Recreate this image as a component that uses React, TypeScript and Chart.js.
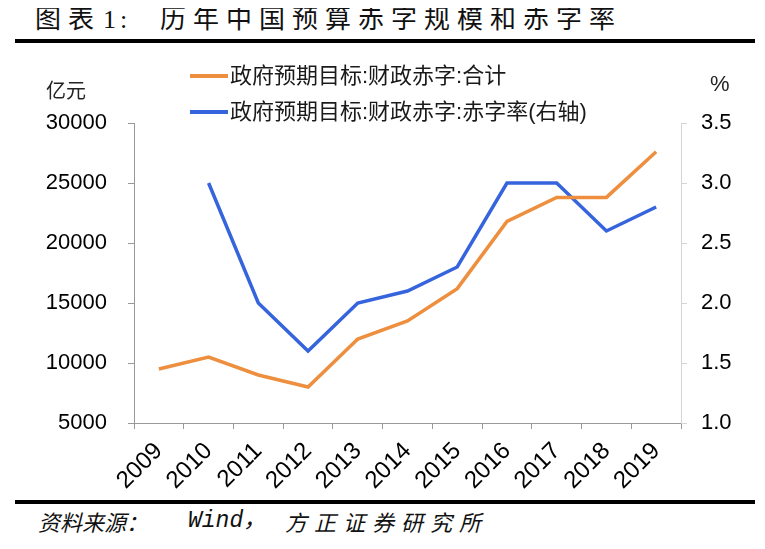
import React, { useEffect, useRef } from "react";
import { Chart, registerables } from "chart.js";

Chart.register(...registerables);

const years = ["2009", "2010", "2011", "2012", "2013", "2014", "2015", "2016", "2017", "2018", "2019"];
const deficitAmount = [9500, 10500, 9000, 8000, 12000, 13500, 16200, 21800, 23800, 23800, 27600];
const deficitRate = [null, 3.0, 2.0, 1.6, 2.0, 2.1, 2.3, 3.0, 3.0, 2.6, 2.8];
const seriesLabels = ["政府预期目标:财政赤字:合计", "政府预期目标:财政赤字:赤字率(右轴)"];
const leftRange = [5000, 30000, 5000];
const rightRange = [1.0, 3.5, 0.5];
const leftUnit = "亿元";
const rightUnit = "%";

const ORANGE = "#ED8F3E";
const BLUE = "#3564DD";
const SANS = '"Liberation Sans", "Noto Sans CJK SC", sans-serif';

const overlayPlugin = {
  id: "overlay",
  afterDraw(chart: any) {
    const { ctx, chartArea } = chart;
    ctx.save();
    const x0 = chartArea.left + 56;
    const rows = [chartArea.top - 47, chartArea.top - 11];
    chart.data.datasets.forEach((ds: any, i: number) => {
      const y = rows[i];
      ctx.strokeStyle = ds.borderColor;
      ctx.lineWidth = 4;
      ctx.lineCap = "butt";
      ctx.beginPath();
      ctx.moveTo(x0, y);
      ctx.lineTo(x0 + 38, y);
      ctx.stroke();
      ctx.fillStyle = "#1a1a1a";
      ctx.font = '22px "Liberation Sans", "Noto Sans CJK SC", sans-serif';
      ctx.textAlign = "left";
      ctx.textBaseline = "middle";
      ctx.fillText(ds.label, x0 + 40, y + 1);
    });
    ctx.fillStyle = "#222";
    ctx.textBaseline = "middle";
    ctx.textAlign = "left";
    ctx.font = '20px "Noto Sans CJK SC", sans-serif';
    ctx.fillText(leftUnit, 38, chartArea.top - 33);
    ctx.font = '22px "Liberation Sans", sans-serif';
    ctx.fillText(rightUnit, 702, chartArea.top - 38);
    ctx.restore();
  },
};

function ChartCanvas() {
  const ref = useRef<HTMLCanvasElement | null>(null);
  useEffect(() => {
    if (!ref.current) return;
    const chart = new Chart(ref.current, {
      type: "line",
      data: {
        labels: years,
        datasets: [
          {
            label: seriesLabels[0],
            data: deficitAmount,
            borderColor: ORANGE,
            backgroundColor: ORANGE,
            borderWidth: 3.5,
            pointRadius: 0,
            tension: 0,
            yAxisID: "y",
          },
          {
            label: seriesLabels[1],
            data: deficitRate,
            borderColor: BLUE,
            backgroundColor: BLUE,
            borderWidth: 3.5,
            pointRadius: 0,
            tension: 0,
            yAxisID: "y1",
          },
        ],
      },
      options: {
        responsive: false,
        animation: false,
        layout: { padding: { top: 73, left: 0, right: 0, bottom: 0 } },
        plugins: {
          legend: { display: false },
          tooltip: { enabled: false },
        },
        scales: {
          x: {
            offset: true,
            grid: {
              offset: true,
              display: true,
              drawOnChartArea: false,
              drawTicks: true,
              tickLength: 6,
              color: "#999",
            },
            border: { display: true, color: "#999", width: 1 },
            ticks: {
              minRotation: 45,
              maxRotation: 45,
              autoSkip: false,
              padding: 8,
              color: "#000",
              font: { family: SANS, size: 24 },
            },
            afterFit: (s: any) => {
              s.height = 72;
            },
          },
          y: {
            position: "left",
            min: leftRange[0],
            max: leftRange[1],
            grid: {
              display: true,
              drawOnChartArea: false,
              drawTicks: true,
              tickLength: 6,
              color: "#999",
            },
            border: { display: true, color: "#999", width: 1 },
            ticks: {
              stepSize: leftRange[2],
              padding: 21,
              color: "#000",
              font: { family: SANS, size: 22 },
              callback: (v: any) => String(v),
            },
            afterFit: (s: any) => {
              s.width = 126;
            },
          },
          y1: {
            position: "right",
            min: rightRange[0],
            max: rightRange[1],
            grid: {
              display: true,
              drawOnChartArea: false,
              drawTicks: true,
              tickLength: 6,
              color: "#d4d4d4",
            },
            border: { display: true, color: "#d4d4d4", width: 1 },
            ticks: {
              stepSize: rightRange[2],
              padding: 14,
              color: "#000",
              font: { family: SANS, size: 22 },
              callback: (v: any) => Number(v).toFixed(1),
            },
            afterFit: (s: any) => {
              s.width = 76;
            },
          },
        },
      },
      plugins: [overlayPlugin],
    });
    return () => chart.destroy();
  }, []);
  return (
    <canvas
      ref={ref}
      width={749}
      height={445}
      style={{ position: "absolute", left: 0, top: 42, width: 749, height: 445 }}
    />
  );
}

export default function App() {
  const titleBase: React.CSSProperties = {
    position: "absolute",
    top: -3,
    fontSize: 26,
    lineHeight: "30px",
    whiteSpace: "nowrap",
    color: "#111",
    fontFamily: '"Liberation Serif", "Noto Sans CJK SC", serif',
  };
  const footBase: React.CSSProperties = {
    position: "absolute",
    top: 502,
    fontSize: 22,
    lineHeight: "23px",
    whiteSpace: "nowrap",
    fontStyle: "italic",
    color: "#111",
    fontFamily: '"Noto Sans CJK SC", sans-serif',
  };
  return (
    <div style={{ position: "relative", width: 749, height: 533, background: "#fff" }}>
      <span style={{ ...titleBase, left: 27, letterSpacing: 7 }}>图表</span>
      <span style={{ ...titleBase, left: 95, letterSpacing: 4 }}>1:</span>
      <span style={{ ...titleBase, left: 152, letterSpacing: 7 }}>历年中国预算赤字规模和赤字率</span>
      <div style={{ position: "absolute", left: 7, top: 31, width: 740, height: 4, background: "#000" }} />
      <ChartCanvas />
      <div style={{ position: "absolute", left: 7, top: 492, width: 740, height: 4, background: "#000" }} />
      <span style={{ ...footBase, left: 30 }}>资料来源：</span>
      <span style={{ ...footBase, left: 180, fontFamily: '"Liberation Mono", "Noto Sans CJK SC", monospace', fontSize: 23 }}>
        Wind，
      </span>
      <span style={{ ...footBase, left: 277, letterSpacing: 7 }}>方正证券研究所</span>
    </div>
  );
}
